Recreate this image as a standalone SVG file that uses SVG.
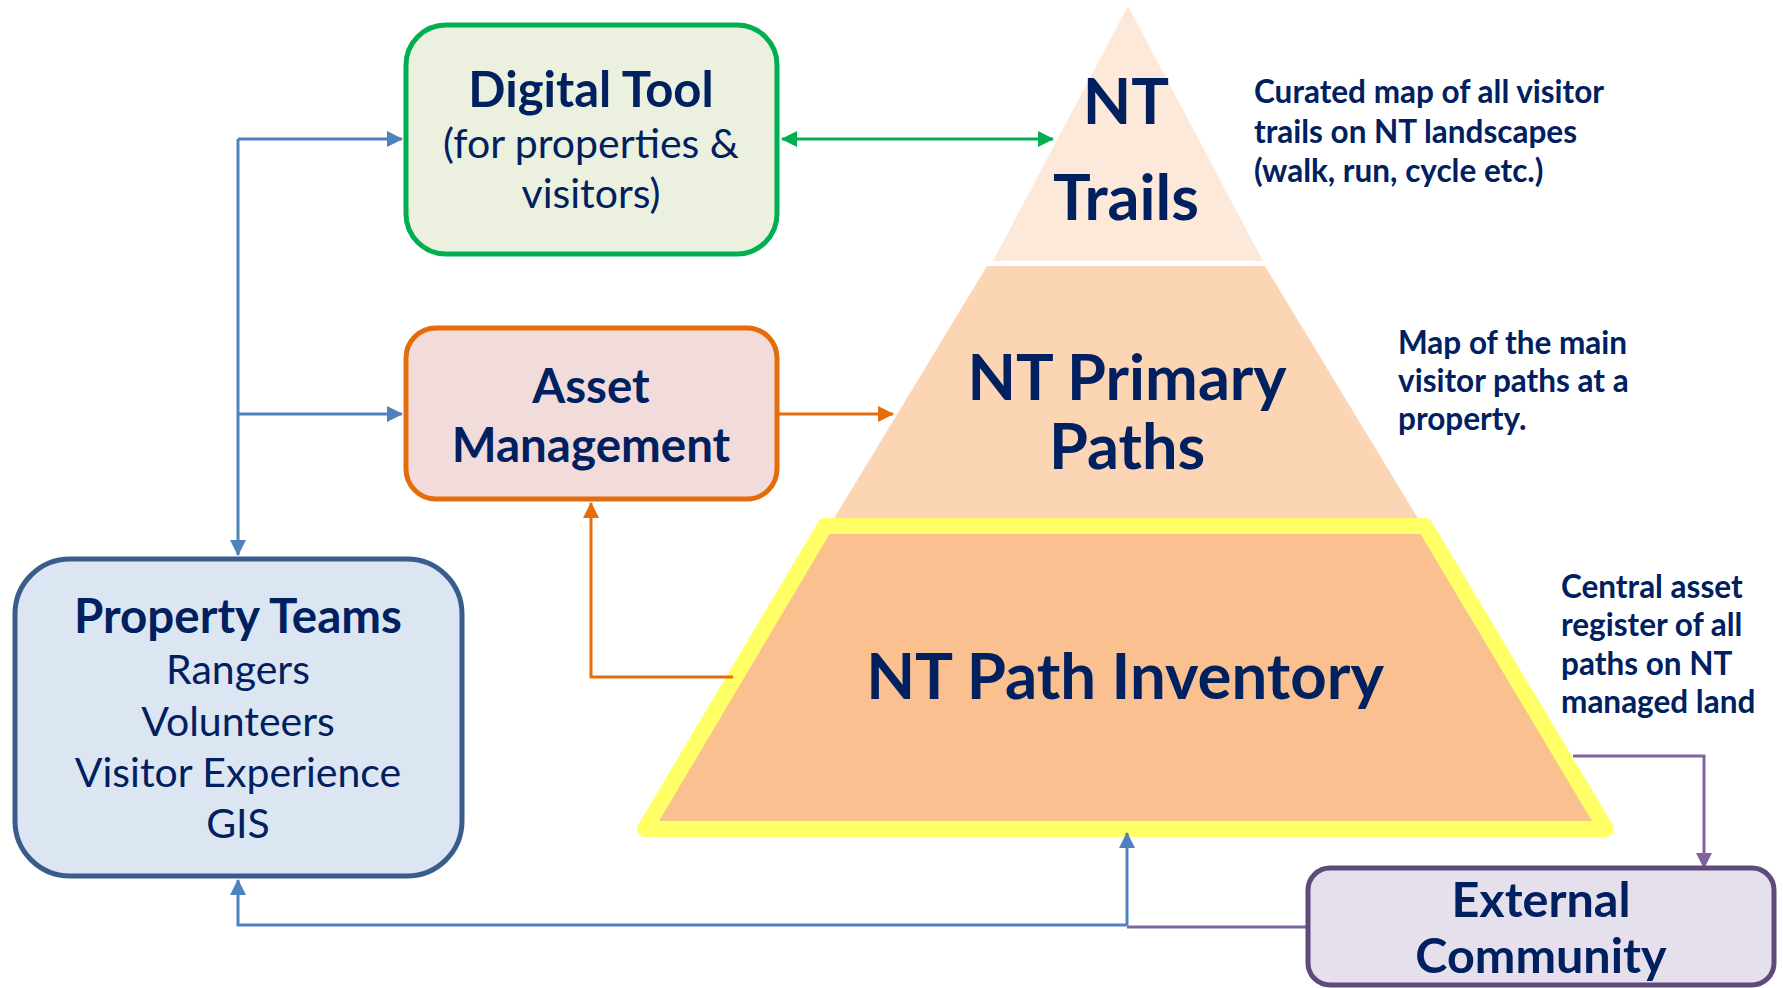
<svg xmlns="http://www.w3.org/2000/svg" width="1783" height="988" viewBox="0 0 1783 988">
<defs>
<style>
.t{font-family:Lato,"Liberation Sans",sans-serif;fill:#002060;text-anchor:middle}
.b{font-weight:bold}
.n{font-family:Lato,"Liberation Sans",sans-serif;fill:#002060;font-weight:bold;font-size:31.5px}
.c{fill:none;stroke-width:3}
</style>
<marker id="ab" markerUnits="userSpaceOnUse" markerWidth="16" markerHeight="16" viewBox="0 0 16 16" refX="15" refY="8" orient="auto"><path d="M0,0 L16,8 L0,16 z" fill="#4f81bd"/></marker>
<marker id="ao" markerUnits="userSpaceOnUse" markerWidth="16" markerHeight="16" viewBox="0 0 16 16" refX="15" refY="8" orient="auto"><path d="M0,0 L16,8 L0,16 z" fill="#e46c0a"/></marker>
<marker id="ag" markerUnits="userSpaceOnUse" markerWidth="16" markerHeight="16" viewBox="0 0 16 16" refX="15" refY="8" orient="auto-start-reverse"><path d="M0,0 L16,8 L0,16 z" fill="#00b050"/></marker>
<marker id="ap" markerUnits="userSpaceOnUse" markerWidth="16" markerHeight="16" viewBox="0 0 16 16" refX="15" refY="8" orient="auto"><path d="M0,0 L16,8 L0,16 z" fill="#8064a2"/></marker>
</defs>
<rect width="1783" height="988" fill="#ffffff"/>

<g id="pyramid">
<g id="nt-trails">
<path d="M1128,6 L1263,261 L993,261 z" fill="#fde9d9"/>
<text class="t b" x="1126" y="124" font-size="63">NT</text>
<text class="t b" x="1126" y="220" font-size="63">Trails</text>
</g>
<g id="nt-primary-paths">
<path d="M987,266 L1265,266 L1425,530 L827,530 z" fill="#fcd5b5"/>
<text class="t b" x="1127" y="400" font-size="63">NT Primary</text>
<text class="t b" x="1127" y="469" font-size="63">Paths</text>
</g>
<g id="nt-path-inventory">
<path d="M825,526 L1425,526 L1606,829 L645,829 z" fill="#fac090" stroke="#ffff66" stroke-width="16" stroke-linejoin="round"/>
<text class="t b" x="1125" y="699" font-size="63.5">NT Path Inventory</text>
</g>
</g>

<g id="connectors">
<path class="c" stroke="#4f81bd" d="M238,139 V555" marker-end="url(#ab)"/>
<path class="c" stroke="#4f81bd" d="M238,139 H402" marker-end="url(#ab)"/>
<path class="c" stroke="#4f81bd" d="M238,414 H402" marker-end="url(#ab)"/>
<path class="c" stroke="#4f81bd" d="M1127,925 H238 V880" marker-end="url(#ab)"/>
<path class="c" stroke="#4f81bd" d="M1127,925 V833" marker-end="url(#ab)"/>
<path class="c" stroke="#8064a2" d="M1306,927 H1127"/>
<path class="c" stroke="#8064a2" d="M1573,756 H1704 V868" marker-end="url(#ap)"/>
<path class="c" stroke="#e46c0a" d="M779,414 H893" marker-end="url(#ao)"/>
<path class="c" stroke="#e46c0a" d="M733,677 H591 V503" marker-end="url(#ao)"/>
<path class="c" stroke="#00b050" d="M782,139 H1053" marker-start="url(#ag)" marker-end="url(#ag)"/>
</g>

<g id="digital-tool">
<rect x="406" y="25" width="371" height="229" rx="40" fill="#ebf1de" stroke="#00b050" stroke-width="5"/>
<text class="t b" x="591" y="107" font-size="49">Digital Tool</text>
<text class="t" x="591" y="158" font-size="41">(for properties &amp;</text>
<text class="t" x="591" y="208" font-size="41">visitors)</text>
</g>

<g id="asset-management">
<rect x="406" y="328" width="371" height="171" rx="30" fill="#f2dcdb" stroke="#e46c0a" stroke-width="5"/>
<text class="t b" x="591" y="403" font-size="47.5">Asset</text>
<text class="t b" x="591" y="462" font-size="47.5">Management</text>
</g>

<g id="property-teams">
<rect x="15" y="559" width="447" height="317" rx="55" fill="#dce6f2" stroke="#385d8a" stroke-width="5"/>
<text class="t b" x="238" y="633" font-size="47.5">Property Teams</text>
<text class="t" x="238" y="684" font-size="41">Rangers</text>
<text class="t" x="238" y="736" font-size="41">Volunteers</text>
<text class="t" x="238" y="787" font-size="41">Visitor Experience</text>
<text class="t" x="238" y="838" font-size="41">GIS</text>
</g>

<g id="external-community">
<rect x="1308" y="868" width="466" height="117" rx="22" fill="#e5e0ec" stroke="#604a7b" stroke-width="5"/>
<text class="t b" x="1541" y="917" font-size="48.5">External</text>
<text class="t b" x="1541" y="973" font-size="48.5">Community</text>
</g>

<g id="notes">
<text class="n" x="1254" y="103">Curated map of all visitor</text>
<text class="n" x="1254" y="143">trails on NT landscapes</text>
<text class="n" x="1254" y="182">(walk, run, cycle etc.)</text>
<text class="n" x="1398" y="354">Map of the main</text>
<text class="n" x="1398" y="392">visitor paths at a</text>
<text class="n" x="1398" y="430">property.</text>
<text class="n" x="1561" y="598">Central asset</text>
<text class="n" x="1561" y="636">register of all</text>
<text class="n" x="1561" y="675">paths on NT</text>
<text class="n" x="1561" y="713">managed land</text>
</g>
</svg>
